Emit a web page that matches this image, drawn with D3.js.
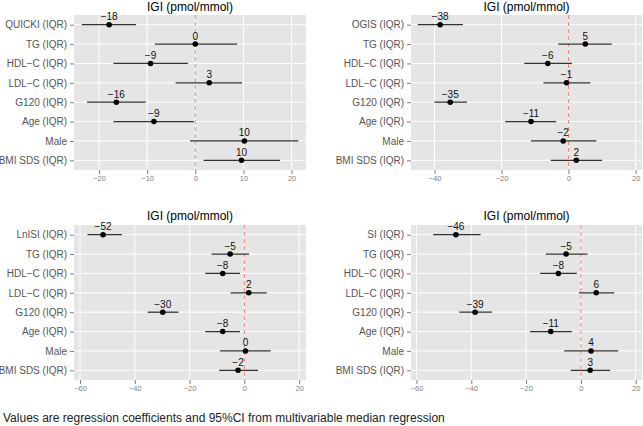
<!DOCTYPE html>
<html>
<head>
<meta charset="utf-8">
<script src="https://cdn.jsdelivr.net/npm/d3@7"></script>
<style>
  html, body { margin: 0; padding: 0; background: #fff; }
  svg { display: block; font-family: "Liberation Sans", Arial, Helvetica, sans-serif; }
</style>
</head>
<body>
<svg id="chart" width="643" height="426"></svg>
<script>
// ---------- data ----------
const panelTitles = ["IGI (pmol/mmol)", "IGI (pmol/mmol)", "IGI (pmol/mmol)", "IGI (pmol/mmol)"];
const firstCategories = ["QUICKI (IQR)", "OGIS (IQR)", "LnISI (IQR)", "SI (IQR)"];
const sharedCategories = ["TG (IQR)", "HDL−C (IQR)", "LDL−C (IQR)", "G120 (IQR)", "Age (IQR)", "Male", "BMI SDS (IQR)"];

// estimates (coefficients) per panel, in category order
const estQuicki = [-17.9, 0.0, -9.3, 2.9, -16.4, -8.6, 10.2, 9.6];
const lowQuicki = [-23.6, -8.4, -17.0, -4.1, -22.5, -17.0, -1.1, 1.7];
const highQuicki = [-12.3, 8.7, -1.5, 9.7, -10.3, -0.3, 21.4, 17.6];

const estOgis = [-38.3, 5.0, -6.2, -0.6, -35.3, -11.2, -1.6, 2.3];
const lowOgis = [-45.0, -3.1, -13.2, -7.5, -40.0, -18.9, -11.2, -5.3];
const highOgis = [-31.5, 12.9, 1.0, 6.5, -30.3, -3.7, 8.3, 10.0];

const estLnisi = [-51.6, -5.2, -7.9, 1.6, -29.8, -7.9, 0.4, -2.3];
const lowLnisi = [-57.3, -12.0, -14.3, -5.0, -35.3, -14.3, -8.9, -9.2];
const highLnisi = [-44.7, 1.7, -1.6, 8.2, -24.1, -1.6, 9.6, 5.0];

const estSi = [-45.6, -5.4, -8.2, 5.6, -38.6, -11.0, 3.7, 3.4];
const lowSi = [-53.9, -12.8, -14.9, -0.7, -44.4, -18.5, -6.1, -3.7];
const highSi = [-36.6, 2.4, -1.5, 12.2, -32.5, -3.3, 13.6, 10.7];

const xLimits = [[-25.2, 23], [-47, 21.9], [-62.2, 22.5], [-62, 22.3]];
const xTicks = [[-20, -10, 0, 10, 20], [-40, -20, 0, 20], [-60, -40, -20, 0, 20], [-60, -40, -20, 0, 20]];

const caption = "Values are regression coefficients and 95%CI from multivariable median regression";

// ---------- layout ----------
const panels = [
  { est: estQuicki, low: lowQuicki, high: highQuicki, box: [74, 306, 15, 170], titleY: 10.5 },
  { est: estOgis, low: lowOgis, high: highOgis, box: [411, 642, 15, 170], titleY: 10.5 },
  { est: estLnisi, low: lowLnisi, high: highLnisi, box: [74, 306, 225, 380], titleY: 219.5 },
  { est: estSi, low: lowSi, high: highSi, box: [411, 642, 225, 380], titleY: 219.5 }
];

const svg = d3.select("#chart");
const minus = s => String(s).replace(/-/g, "−");

panels.forEach((p, i) => {
  const [x0, x1, y0, y1] = p.box;
  const cats = [firstCategories[i], ...sharedCategories];
  const x = d3.scaleLinear().domain(xLimits[i]).range([x0, x1]);
  const y = d3.scalePoint().domain(cats).range([y0, y1]).padding(0.5);
  const rows = cats.map((c, k) => ({ cat: c, est: p.est[k], low: p.low[k], high: p.high[k] }));

  const g = svg.append("g");

  // panel background
  g.append("rect").attr("x", x0).attr("y", y0).attr("width", x1 - x0).attr("height", y1 - y0)
    .attr("fill", "#E5E5E5");

  // grid
  g.selectAll(".vgrid").data(xTicks[i]).enter().append("line")
    .attr("x1", d => x(d)).attr("x2", d => x(d)).attr("y1", y0).attr("y2", y1)
    .attr("stroke", "#fff").attr("stroke-width", 1);
  g.selectAll(".hgrid").data(cats).enter().append("line")
    .attr("x1", x0).attr("x2", x1).attr("y1", d => y(d)).attr("y2", d => y(d))
    .attr("stroke", "#fff").attr("stroke-width", 1);

  // zero reference line
  g.append("line").attr("x1", x(0)).attr("x2", x(0)).attr("y1", y0).attr("y2", y1)
    .attr("stroke", "#F2827A").attr("stroke-width", 1).attr("stroke-dasharray", "4,3");

  // x axis
  const xAxis = d3.axisBottom(x).tickValues(xTicks[i]).tickSize(4).tickPadding(2)
    .tickFormat(d => minus(d));
  const ax = g.append("g").attr("transform", `translate(0,${y1})`).call(xAxis);
  ax.select(".domain").remove();
  ax.selectAll(".tick line").attr("stroke", "#7F7F7F");
  ax.selectAll(".tick text").attr("fill", "#7F7F7F").attr("font-size", "7.5px")
    .attr("font-family", "Liberation Sans, Arial, sans-serif");

  // y axis
  const yAxis = d3.axisLeft(y).tickSize(4).tickPadding(3);
  const ay = g.append("g").attr("transform", `translate(${x0},0)`).call(yAxis);
  ay.select(".domain").remove();
  ay.selectAll(".tick line").attr("stroke", "#7F7F7F");
  ay.selectAll(".tick text").attr("fill", "#555").attr("font-size", "10px")
    .attr("font-family", "Liberation Sans, Arial, sans-serif");

  // CI lines
  g.selectAll(".ci").data(rows).enter().append("line")
    .attr("x1", d => x(d.low)).attr("x2", d => x(d.high))
    .attr("y1", d => y(d.cat)).attr("y2", d => y(d.cat))
    .attr("stroke", "#333").attr("stroke-width", 1.3);

  // points
  g.selectAll(".pt").data(rows).enter().append("circle")
    .attr("cx", d => x(d.est)).attr("cy", d => y(d.cat)).attr("r", 2.8)
    .attr("fill", "#000");

  // value labels
  g.selectAll(".lab").data(rows).enter().append("text")
    .attr("x", d => x(d.est)).attr("y", d => y(d.cat) - 4.5)
    .attr("text-anchor", "middle").attr("font-size", "10px").attr("fill", "#111")
    .text(d => minus(Math.round(d.est) === 0 ? 0 : Math.round(d.est)));

  // title
  g.append("text").attr("x", (x0 + x1) / 2).attr("y", p.titleY)
    .attr("text-anchor", "middle").attr("font-size", "12px").attr("fill", "#000")
    .text(panelTitles[i]);
});

svg.append("text").attr("x", 3).attr("y", 422).attr("font-size", "12px").attr("fill", "#222")
  .text(caption);
</script>
</body>
</html>
